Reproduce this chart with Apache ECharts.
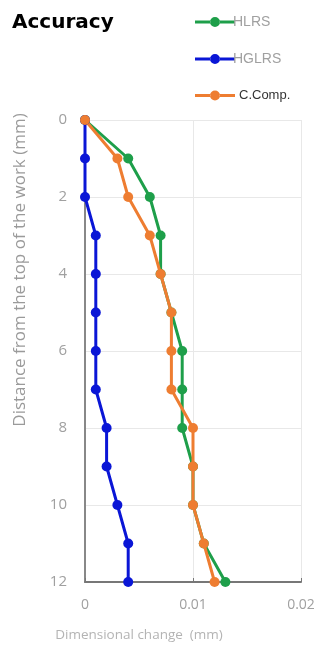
<!DOCTYPE html>
<html>
<head>
<meta charset="utf-8">
<script src="https://cdn.jsdelivr.net/npm/echarts@6/dist/echarts.min.js"></script>
<style>
  html, body { margin: 0; padding: 0; background: #ffffff; }
  #chart { width: 320px; height: 645px; }
</style>
</head>
<body>
<div id="chart"></div>
<script>
// Depth below the top of the work (mm)
const depths = [0, 1, 2, 3, 4, 5, 6, 7, 8, 9, 10, 11, 12];
// Dimensional change (mm) at each depth
const hlrs  = [0, 0.004, 0.006, 0.007, 0.007, 0.008, 0.009, 0.009, 0.009, 0.010, 0.010, 0.011, 0.013];
const hglrs = [0, 0, 0, 0.001, 0.001, 0.001, 0.001, 0.001, 0.002, 0.002, 0.003, 0.004, 0.004];
const ccomp = [0, 0.003, 0.004, 0.006, 0.007, 0.008, 0.008, 0.008, 0.010, 0.010, 0.010, 0.011, 0.012];
const seriesNames = ['HLRS', 'HGLRS', 'C.Comp.'];
const xTicks = [0, 0.01, 0.02];
const yTicks = [0, 2, 4, 6, 8, 10, 12];
const xTitle = 'Dimensional change  (mm)';
const yTitle = 'Distance from the top of the work (mm)';

const colors = ['#1e9f4a', '#0a16d6', '#ee7d31'];
const pairs = vals => vals.map((v, i) => [v, depths[i]]);

// Legend glyph: a thick line segment with a round marker in the middle
const legendIcon = 'path://M0 3.5 H15.3 V6.5 H0 Z M24.7 3.5 H40 V6.5 H24.7 Z M15 5 A5 5 0 1 0 25 5 A5 5 0 1 0 15 5 Z';

const chart = echarts.init(document.getElementById('chart'));
chart.setOption({
  animation: false,
  backgroundColor: '#ffffff',
  title: {
    text: 'Accuracy',
    left: 7, top: 8,
    textStyle: { fontFamily: 'DejaVu Sans', fontWeight: 'bold', fontSize: 20, color: '#000' }
  },
  legend: {
    orient: 'vertical',
    left: 190, top: 10,
    itemWidth: 40, itemHeight: 10,
    itemGap: 23,
    icon: legendIcon,
    textStyle: { fontFamily: 'Liberation Sans', fontSize: 14, color: '#a0a0a0', padding: [0, 0, 0, -7] },
    data: [
      { name: seriesNames[0] },
      { name: seriesNames[1] },
      { name: seriesNames[2], textStyle: { color: '#333', fontSize: 13, padding: [0, 0, 0, -1] } }
    ]
  },
  graphic: [
    {
      type: 'text',
      x: 20, y: 270,
      rotation: Math.PI / 2,
      style: {
        text: yTitle,
        fontFamily: 'Open Sans', fontSize: 17, fill: '#9a9a9a',
        align: 'center', verticalAlign: 'middle'
      }
    },
    {
      type: 'text',
      x: 139, y: 635,
      style: {
        text: xTitle,
        fontFamily: 'Open Sans', fontSize: 13.5, fill: '#b4b4b4',
        align: 'center', verticalAlign: 'middle'
      }
    }
  ],
  grid: { left: 85, top: 120, width: 216, height: 462 },
  xAxis: {
    type: 'value',
    position: 'bottom',
    min: 0, max: 0.02, interval: 0.01,
    axisLine: { show: true, onZero: false, lineStyle: { color: '#777', width: 2 } },
    axisTick: { show: true, inside: true, length: 4, lineStyle: { color: '#777' } },
    axisLabel: {
      fontFamily: 'Open Sans', fontSize: 14, color: '#a0a0a0', margin: 16,
      formatter: v => xTicks.includes(+v.toFixed(3)) ? String(+v.toFixed(3)) : ''
    },
    splitLine: { show: true, lineStyle: { color: '#e8e8e8', width: 1 } }
  },
  yAxis: {
    type: 'value',
    inverse: true,
    min: 0, max: 12, interval: 2,
    axisLine: { show: true, onZero: false, lineStyle: { color: '#888', width: 2 } },
    axisTick: { show: false },
    axisLabel: {
      fontFamily: 'Open Sans', fontSize: 15, color: '#a0a0a0', margin: 18,
      formatter: v => yTicks.includes(v) ? String(v) : ''
    },
    splitLine: { show: true, lineStyle: { color: '#e8e8e8', width: 1 } }
  },
  series: [hlrs, hglrs, ccomp].map((vals, i) => ({
    name: seriesNames[i],
    type: 'line',
    data: pairs(vals),
    color: colors[i],
    symbol: 'circle',
    symbolSize: 10,
    lineStyle: { width: 3, color: colors[i] },
    itemStyle: { color: colors[i] },
    z: i === 2 ? 4 : 3 + i
  }))
});
</script>
</body>
</html>
